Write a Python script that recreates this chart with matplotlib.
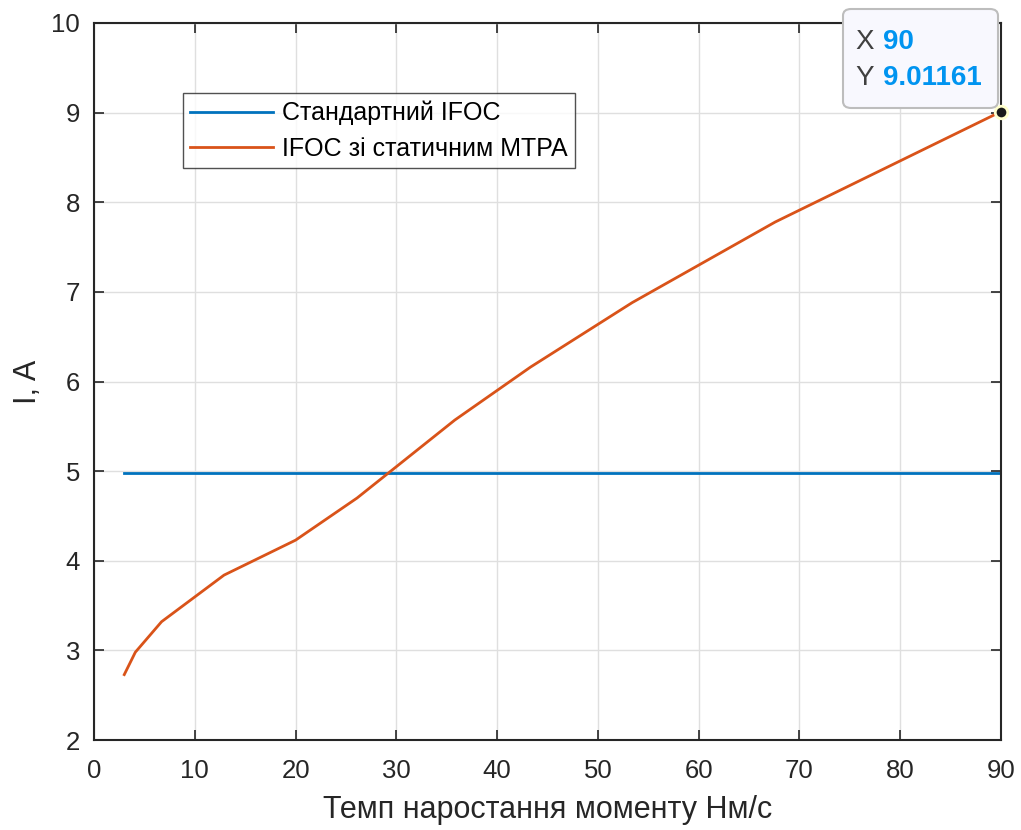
import matplotlib.pyplot as plt
from matplotlib.patches import FancyBboxPatch
import numpy as np

plt.rcParams['font.family'] = ['Liberation Sans', 'DejaVu Sans']

# torque rise rate, Nm/s
rate = [3.0, 4.1, 6.7, 12.9, 20.0, 26.1, 35.8, 43.3, 53.4, 67.6, 90.0]
# current with static MTPA, A
i_mtpa = [2.73, 2.98, 3.32, 3.84, 4.23, 4.70, 5.57, 6.16, 6.88, 7.78, 9.01161]
# current with standard IFOC, A
i_std = [4.98] * len(rate)

blue = '#0072BD'
orange = '#D95319'
dark = '#262626'

fig = plt.figure(figsize=(10.21, 8.30), dpi=100)
ax = fig.add_axes([0.0921, 0.1084, 0.8883, 0.8639])

ax.plot(rate, i_std, color=blue, lw=2.0, label='Стандартний IFOC')
ax.plot(rate, i_mtpa, color=orange, lw=2.0, label='IFOC зі статичним MTPA')

ax.set_xlim(0, 90)
ax.set_ylim(2, 10)
ax.set_xticks(np.arange(0, 91, 10))
ax.set_yticks(np.arange(2, 11, 1))
ax.grid(True, color='#dfdfdf', lw=1.0)
ax.set_axisbelow(True)
ax.tick_params(direction='in', length=7, width=1.2, top=True, right=True,
               labelsize=18.5, colors=dark)
ax.tick_params(axis='x', pad=14)
ax.tick_params(axis='y', pad=10)
for s in ax.spines.values():
    s.set_linewidth(1.5)
    s.set_color(dark)

ax.set_xlabel('Темп наростання моменту Нм/с', fontsize=22, color=dark, labelpad=8)
ax.set_ylabel('I, A', fontsize=22, color=dark, labelpad=6)

leg = ax.legend(loc='upper left', bbox_to_anchor=(0.098, 0.902), fontsize=18,
                frameon=True, fancybox=False, handlelength=3.3, borderpad=0.3,
                labelspacing=0.45, handletextpad=0.35, borderaxespad=0)
leg.get_frame().set_edgecolor(dark)
leg.get_frame().set_linewidth(1.0)

# data tip at the last point
x_tip, y_tip = rate[-1], i_mtpa[-1]
ax.plot([x_tip], [y_tip], 'o', ms=9, mfc='#1a1a1a', mec='#ffffcc', mew=2, clip_on=False, zorder=6)
box = FancyBboxPatch((843 / 1021, 722 / 830), 155 / 1021, 99 / 830,
                     boxstyle='round,pad=0,rounding_size=0.008', transform=fig.transFigure,
                     fc='#f8f8fe', ec='#bdbdbd', lw=1.5, zorder=10)
fig.patches.append(box)
fig.text(855 / 1021, 788 / 830, 'X', fontsize=20, color='#404040', va='center', zorder=11)
fig.text(883 / 1021, 788 / 830, f'{x_tip:g}', fontsize=20, color='#0094f0',
         fontweight='bold', va='center', zorder=11)
fig.text(855 / 1021, 752 / 830, 'Y', fontsize=20, color='#404040', va='center', zorder=11)
fig.text(883 / 1021, 752 / 830, f'{y_tip:g}', fontsize=20, color='#0094f0',
         fontweight='bold', va='center', zorder=11)

fig.savefig('out.png', dpi=100)
